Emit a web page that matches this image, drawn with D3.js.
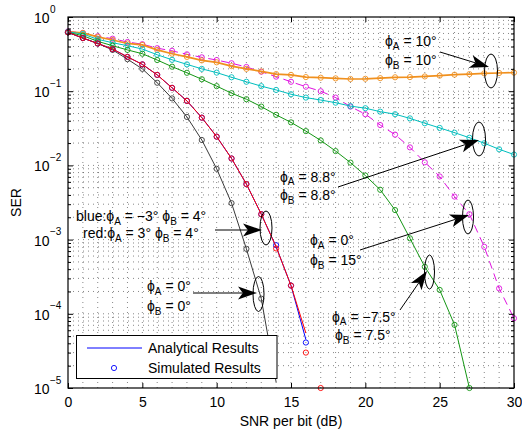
<!DOCTYPE html>
<html>
<head>
<meta charset="utf-8">
<script src="https://cdn.jsdelivr.net/npm/d3@7"></script>
<style>
    body { margin: 0; background: #fff; }
    svg { font-family: "Liberation Sans", Arial, sans-serif; }
</style>
</head>
<body>
<svg id="chart" width="522" height="435"></svg>
<script>
// SNR per bit (dB), one entry per simulated point
var snrDb = [0, 1, 2, 3, 4, 5, 6, 7, 8, 9, 10, 11, 12, 13, 14, 15, 16, 17, 18, 19, 20,
             21, 22, 23, 24, 25, 26, 27, 28, 29, 30];

// SER, one array per (phiA, phiB) pair
var serZero = [0.62, 0.52, 0.44, 0.36, 0.27, 0.20, 0.13, 0.08, 0.045, 0.022, 0.009,
               0.0031, 7.5e-4, 1.6e-4, 1.2e-5];
var serBlueAna = [0.62, 0.52, 0.44, 0.37, 0.29, 0.23, 0.166, 0.111, 0.074, 0.044, 0.0244,
                  0.0124, 0.0056, 0.0022, 8e-4, 2.4e-4, 4.5e-5];
var serBlueSim = [0.62, 0.52, 0.44, 0.37, 0.29, 0.23, 0.166, 0.111, 0.074, 0.044, 0.0244,
                  0.0124, 0.0056, 0.0022, 8.4e-4, 2.4e-4, 4.1e-5];
var serRedAna = [0.62, 0.52, 0.44, 0.37, 0.29, 0.23, 0.166, 0.111, 0.074, 0.044, 0.0244,
                 0.0124, 0.0056, 0.0022, 8e-4, 2.4e-4, 5.5e-5];
var serRedSim = [0.62, 0.52, 0.44, 0.37, 0.29, 0.23, 0.166, 0.111, 0.074, 0.044, 0.0244,
                 0.0124, 0.0056, 0.0022, 7.6e-4, 2.4e-4, 3e-5, 1e-5];
var serGreen = [0.62, 0.56, 0.47, 0.41, 0.36, 0.32, 0.263, 0.214, 0.177, 0.145, 0.117,
                0.094, 0.078, 0.062, 0.048, 0.038, 0.029, 0.0217, 0.0156, 0.0109, 0.0073,
                0.0047, 0.0025, 1.04e-3, 4.3e-4, 2.1e-4, 7.1e-5, 1e-5];
var serCyan = [0.63, 0.59, 0.50, 0.45, 0.41, 0.37, 0.31, 0.265, 0.23, 0.20, 0.178,
               0.154, 0.134, 0.117, 0.104, 0.091, 0.082, 0.076, 0.070, 0.063, 0.059,
               0.053, 0.049, 0.043, 0.037, 0.032, 0.0276, 0.0236, 0.0199, 0.0165, 0.014];
var serOrange = [0.63, 0.61, 0.54, 0.49, 0.44, 0.42, 0.36, 0.32, 0.29, 0.26, 0.245,
                 0.218, 0.20, 0.185, 0.17, 0.166, 0.155, 0.152, 0.149, 0.146, 0.147,
                 0.15, 0.154, 0.155, 0.158, 0.162, 0.167, 0.17, 0.174, 0.176, 0.178];
var serMagenta = [0.64, 0.61, 0.55, 0.51, 0.46, 0.43, 0.38, 0.35, 0.314, 0.286, 0.263,
                  0.238, 0.212, 0.183, 0.157, 0.134, 0.115, 0.1, 0.082, 0.062, 0.049,
                  0.035, 0.026, 0.0175, 0.011, 0.0071, 0.0038, 0.0022, 8e-4, 2.2e-4, 8.7e-5];

// axis ticks
var xTicks = [0, 5, 10, 15, 20, 25, 30];
var yDecades = [-5, -4, -3, -2, -1, 0];
var yMinorMult = [2, 3, 4, 5, 6, 7, 8, 9];

var svg = d3.select("#chart");
var margin = { top: 17, right: 8, bottom: 47, left: 68 };
var width = 522 - margin.left - margin.right,
    height = 435 - margin.top - margin.bottom;

var x = d3.scaleLinear().domain([0, 30]).range([margin.left, margin.left + width]);
var y = d3.scaleLog().domain([1e-5, 1]).range([margin.top + height, margin.top]);

var yMinor = [];
yDecades.slice(0, -1).forEach(e => {
    yMinorMult.forEach(k => yMinor.push(k * Math.pow(10, e)));
});
var yMajor = yDecades.map(e => Math.pow(10, e));

// Grid (dotted, every dB and every log step)
var grid = svg.append("g")
    .attr("stroke", "#000")
    .attr("stroke-opacity", 0.6)
    .attr("stroke-width", 0.8)
    .attr("stroke-dasharray", "1,4");

grid.selectAll(".vg")
    .data(snrDb.slice(1, -1))
    .join("line")
        .attr("x1", d => x(d)).attr("x2", d => x(d))
        .attr("y1", margin.top).attr("y2", margin.top + height);

grid.selectAll(".hg")
    .data(yMinor.concat(yMajor.slice(1, -1)))
    .join("line")
        .attr("x1", margin.left).attr("x2", margin.left + width)
        .attr("y1", d => y(d)).attr("y2", d => y(d));

// Curves: analytical line + simulated circles
var curves = [
    { color: "#3a3a3a", ana: serZero, sim: serZero.slice(0, 14) },
    { color: "#e010e0", ana: serMagenta, sim: serMagenta, dash: "8,5" },
    { color: "#f0901e", ana: serOrange, sim: serOrange, lw: 1.7 },
    { color: "#00bebe", ana: serCyan, sim: serCyan },
    { color: "#149614", ana: serGreen, sim: serGreen },
    { color: "#0000ff", ana: serBlueAna, sim: serBlueSim },
    { color: "#ff0000", ana: serRedAna, sim: serRedSim }
];

var line = d3.line()
    .x((d, i) => x(snrDb[i]))
    .y(d => y(d));

curves.forEach(c => {
    var cg = svg.append("g");
    cg.append("path")
        .attr("d", line(c.ana))
        .attr("fill", "none")
        .attr("stroke", c.color)
        .attr("stroke-width", c.lw || 1)
        .attr("stroke-dasharray", c.dash || null);
    cg.selectAll("circle")
        .data(c.sim)
        .join("circle")
            .attr("cx", (d, i) => x(snrDb[i]))
            .attr("cy", d => y(d))
            .attr("r", 2.6)
            .attr("fill", "none")
            .attr("stroke", c.color)
            .attr("stroke-width", 0.9);
});

// Axes, ticks pointing inward on all four sides
var axB = svg.append("g")
    .attr("transform", `translate(0,${margin.top + height})`)
    .call(d3.axisBottom(x).tickValues(xTicks).tickSizeInner(-5).tickSizeOuter(0).tickPadding(9));
var axT = svg.append("g")
    .attr("transform", `translate(0,${margin.top})`)
    .call(d3.axisTop(x).tickValues(xTicks).tickSizeInner(-5).tickSizeOuter(0).tickFormat(""));
var axL = svg.append("g")
    .attr("transform", `translate(${margin.left},0)`)
    .call(d3.axisLeft(y).tickValues(yMajor).tickSizeInner(-5).tickSizeOuter(0).tickFormat(""));
var axLm = svg.append("g")
    .attr("transform", `translate(${margin.left},0)`)
    .call(d3.axisLeft(y).tickValues(yMinor).tickSizeInner(-3).tickSizeOuter(0).tickFormat(""));
var axR = svg.append("g")
    .attr("transform", `translate(${margin.left + width},0)`)
    .call(d3.axisRight(y).tickValues(yMajor).tickSizeInner(-5).tickSizeOuter(0).tickFormat(""));
var axRm = svg.append("g")
    .attr("transform", `translate(${margin.left + width},0)`)
    .call(d3.axisRight(y).tickValues(yMinor).tickSizeInner(-3).tickSizeOuter(0).tickFormat(""));

[axB, axT, axL, axLm, axR, axRm].forEach(a => {
    a.select(".domain").remove();
    a.selectAll("line").attr("stroke", "#000");
    a.selectAll("text").attr("font-size", 14).attr("fill", "#000")
        .attr("font-family", "Liberation Sans, Arial, sans-serif");
});

svg.append("rect")
    .attr("x", margin.left).attr("y", margin.top)
    .attr("width", width).attr("height", height)
    .attr("fill", "none")
    .attr("stroke", "#000")
    .attr("stroke-width", 1.2);

// y tick labels as 10^e
var yLab = svg.append("g").attr("fill", "#000");
yDecades.forEach(e => {
    var yy = y(Math.pow(10, e));
    yLab.append("text")
        .attr("x", 49.5).attr("y", yy + 6)
        .attr("text-anchor", "end")
        .attr("font-size", 14)
        .text("10");
    yLab.append("text")
        .attr("x", 50).attr("y", yy - 4.5)
        .attr("font-size", 10)
        .text(e === 0 ? "0" : "\u2212" + (-e));
});

// Axis labels
svg.append("text")
    .attr("x", x(15)).attr("y", 425.5)
    .attr("text-anchor", "middle")
    .attr("font-size", 14)
    .text("SNR per bit (dB)");

svg.append("text")
    .attr("transform", `translate(21,${margin.top + height / 2}) rotate(-90)`)
    .attr("text-anchor", "middle")
    .attr("font-size", 14)
    .text("SER");

// Legend
var legend = svg.append("g");
legend.append("rect")
    .attr("x", 76.5).attr("y", 335.5)
    .attr("width", 200.5).attr("height", 43)
    .attr("fill", "#fff")
    .attr("stroke", "#000");
legend.append("line")
    .attr("x1", 87).attr("x2", 142)
    .attr("y1", 348).attr("y2", 348)
    .attr("stroke", "#0000ff");
legend.append("circle")
    .attr("cx", 114).attr("cy", 368).attr("r", 2.6)
    .attr("fill", "none").attr("stroke", "#0000ff").attr("stroke-width", 0.9);
legend.append("text")
    .attr("x", 148).attr("y", 353).attr("font-size", 14)
    .text("Analytical Results");
legend.append("text")
    .attr("x", 148).attr("y", 373).attr("font-size", 14)
    .text("Simulated Results");

// Annotations: phi labels, arrows, ellipses
var ann = svg.append("g");

function phiText(px, py, prefix, parts) {
    var t = ann.append("text")
        .attr("x", px).attr("y", py)
        .attr("font-size", 14);
    if (prefix) t.append("tspan").text(prefix);
    parts.forEach(p => {
        t.append("tspan").text("\u03d5");
        t.append("tspan").attr("font-size", 10).attr("dy", 3.5).text(p[0]);
        t.append("tspan").attr("dy", -3.5).text(p[1]);
    });
}

function arrow(x1, y1, x2, y2) {
    var ang = Math.atan2(y2 - y1, x2 - x1);
    var L = 19, W = 13;
    var cos = Math.cos(ang), sin = Math.sin(ang);
    function pt(a, b) { return [x2 + a * cos - b * sin, y2 + a * sin + b * cos]; }
    var back = pt(-L * 0.75, 0);
    ann.append("line")
        .attr("x1", x1).attr("y1", y1)
        .attr("x2", back[0]).attr("y2", back[1])
        .attr("stroke", "#000").attr("stroke-width", 1);
    ann.append("path")
        .attr("d", "M" + [[x2, y2], pt(-L, W / 2), back, pt(-L, -W / 2)].join("L") + "Z")
        .attr("fill", "#000");
}

function ring(cx, cy, rx, ry) {
    ann.append("ellipse")
        .attr("cx", cx).attr("cy", cy)
        .attr("rx", rx).attr("ry", ry)
        .attr("fill", "none")
        .attr("stroke", "#000")
        .attr("stroke-width", 1);
}

// phi = 10, 10
phiText(385, 46, null, [["A", " = 10\u00b0"]]);
phiText(385, 65, null, [["B", " = 10\u00b0"]]);
arrow(440, 52, 489, 67);
ring(491, 71, 6.5, 17);

// phi = 8.8, 8.8
phiText(280, 181.5, null, [["A", " = 8.8\u00b0"]]);
phiText(280, 200, null, [["B", " = 8.8\u00b0"]]);
arrow(338, 187, 479, 140);
ring(479, 139, 6.5, 17);

// blue / red
phiText(76, 221, "blue:", [["A", " = \u22123\u00b0 "], ["B", " = 4\u00b0"]]);
phiText(83, 238, "red:", [["A", " = 3\u00b0 "], ["B", " = 4\u00b0"]]);
arrow(215, 230, 262, 230);
ring(266, 228, 6, 17);

// phi = 0, 0
phiText(147, 291, null, [["A", " = 0\u00b0"]]);
phiText(147, 311, null, [["B", " = 0\u00b0"]]);
arrow(193, 293, 257, 293);
ring(258.5, 294, 5.5, 17.5);

// phi = 0, 15
phiText(310, 245, null, [["A", " = 0\u00b0"]]);
phiText(310, 265, null, [["B", " = 15\u00b0"]]);
arrow(360, 250, 469, 215);
ring(468, 217, 5.5, 17);

// phi = -7.5, 7.5
phiText(332, 321.5, null, [["A", " = \u22127.5\u00b0"]]);
phiText(335, 340, null, [["B", " = 7.5\u00b0"]]);
arrow(400, 310, 427, 271);
ring(429.5, 272, 5, 17);
</script>
</body>
</html>
